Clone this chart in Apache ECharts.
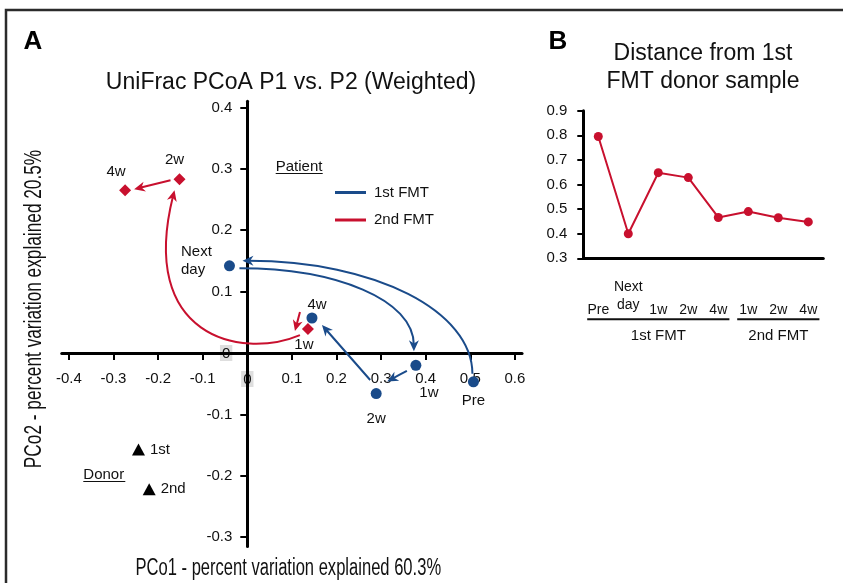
<!DOCTYPE html>
<html>
<head>
<meta charset="utf-8">
<script src="https://cdn.jsdelivr.net/npm/echarts@6/dist/echarts.min.js"></script>
<style>
  html, body { margin: 0; padding: 0; background: #fff; }
  #chart { width: 843px; height: 583px; }
</style>
</head>
<body>
<div id="chart"></div>
<script>
// ---- panel A: PCoA coordinates ----
const fmt1Labels = ['Pre', 'Next\nday', '1w', '2w', '4w'];
const fmt1X = [0.507, -0.040, 0.378, 0.289, 0.145];
const fmt1Y = [-0.047, 0.142, -0.020, -0.066, 0.057];

const fmt2Labels = ['1w', '2w', '4w'];
const fmt2X = [0.136, -0.152, -0.274];
const fmt2Y = [0.039, 0.283, 0.265];

const donorLabels = ['1st', '2nd'];
const donorX = [-0.244, -0.220];
const donorY = [-0.157, -0.222];

// time order of the samples: [from set, from index, to set, to index]
const arrowLinks = [
  ['fmt1', 0, 'fmt1', 1],
  ['fmt1', 1, 'fmt1', 2],
  ['fmt1', 2, 'fmt1', 3],
  ['fmt1', 3, 'fmt1', 4],
  ['fmt1', 4, 'fmt2', 0],
  ['fmt2', 0, 'fmt2', 1],
  ['fmt2', 1, 'fmt2', 2],
];

// ---- panel B: distance from 1st FMT donor ----
const distCategories = ['Pre', 'Next\nday', '1w', '2w', '4w', '1w', '2w', '4w'];
const distValues = [0.795, 0.400, 0.648, 0.628, 0.466, 0.490, 0.465, 0.448];
const distGroups = ['1st FMT', '2nd FMT'];
const distGroupFrom = [0, 5];
const distGroupTo = [4, 7];

const BLUE = '#1a4b8a';
const RED = '#c8102e';
const INK = '#111';
const FONT = '"Liberation Sans", Arial, Helvetica, sans-serif';

// layout of panel A: pixel of (0,0) and pixels per unit
const ORIGIN = [247.3, 353];
const SCALE = [446, 614];
const A_TICK_X = [-0.4, 0.6];
const A_TICK_Y = [-0.3, 0.4];
const A_LINE_X = [-0.416, 0.616];
const A_LINE_Y = [-0.315, 0.41];

function gridFor(xr, yr) {
  return {
    left: ORIGIN[0] + xr[0] * SCALE[0],
    width: (xr[1] - xr[0]) * SCALE[0],
    top: ORIGIN[1] - yr[1] * SCALE[1],
    height: (yr[1] - yr[0]) * SCALE[1],
    outerBoundsMode: 'none',
    containLabel: false,
  };
}

const sets = {
  fmt1: { x: fmt1X, y: fmt1Y },
  fmt2: { x: fmt2X, y: fmt2Y },
};

// label placement per point
const fmt1LabelStyle = [
  { position: 'bottom', offset: [0, 0] },
  { position: 'left', align: 'left', offset: [-38, -5] },
  { position: 'bottom', offset: [13, 8] },
  { position: 'bottom', offset: [0, 6] },
  { position: 'top', offset: [5, 6] },
];
const fmt2LabelStyle = [
  { position: 'bottom', offset: [-4, -3] },
  { position: 'top', offset: [-5, -1] },
  { position: 'top', offset: [-9, 0] },
];

// arrow shapes: pixel offsets of tail/tip from the linked points
const KAPPA = 0.5523;
const arrowShapes = [
  { color: BLUE, from: [-1, -8], to: [13, -5], arc: 'vh' },
  { color: BLUE, from: [10, 2.5], to: [-2, -14], arc: 'hv' },
  { color: BLUE, from: [-9, 5.5], to: [11, -12] },
  { color: BLUE, from: [-6, -13.5], to: [10, 7] },
  { color: RED, from: [-12, -6], to: [-13, 2] },
  { color: RED, from: [-8, 6], to: [-5, 11], c1: [-60, 25], c2: [-35, 140] },
  { color: RED, from: [-9, 1], to: [9, -1] },
];

function lerp(a, b, t) {
  return [a[0] + (b[0] - a[0]) * t, a[1] + (b[1] - a[1]) * t];
}

function renderArrow(params, api) {
  const sh = arrowShapes[params.dataIndex];
  const p0 = api.coord([api.value(0), api.value(1)]);
  const p1 = api.coord([api.value(2), api.value(3)]);
  const s = [p0[0] + sh.from[0], p0[1] + sh.from[1]];
  const e = [p1[0] + sh.to[0], p1[1] + sh.to[1]];
  let c1, c2;
  if (sh.arc) {
    const corner = sh.arc === 'vh' ? [s[0], e[1]] : [e[0], s[1]];
    c1 = lerp(s, corner, KAPPA);
    c2 = lerp(e, corner, KAPPA);
  } else if (sh.c1) {
    c1 = [s[0] + sh.c1[0], s[1] + sh.c1[1]];
    c2 = [e[0] + sh.c2[0], e[1] + sh.c2[1]];
  } else {
    c1 = lerp(s, e, 1 / 3);
    c2 = lerp(s, e, 2 / 3);
  }
  let dx = e[0] - c2[0], dy = e[1] - c2[1];
  const len = Math.hypot(dx, dy) || 1;
  dx /= len; dy /= len;
  const nx = -dy, ny = dx;
  const L = 11, W = 5, cut = 6;
  const back = [e[0] - dx * L, e[1] - dy * L];
  const head = [
    e,
    [back[0] + nx * W, back[1] + ny * W],
    [e[0] - dx * L * 0.7, e[1] - dy * L * 0.7],
    [back[0] - nx * W, back[1] - ny * W],
  ];
  return {
    type: 'group',
    children: [
      {
        type: 'bezierCurve',
        shape: {
          x1: s[0], y1: s[1],
          x2: e[0] - dx * cut, y2: e[1] - dy * cut,
          cpx1: c1[0], cpy1: c1[1],
          cpx2: c2[0] - dx * cut, cpy2: c2[1] - dy * cut,
        },
        style: { stroke: sh.color, lineWidth: 2, fill: 'none' },
      },
      { type: 'polygon', shape: { points: head }, style: { fill: sh.color } },
    ],
  };
}

function renderGroup(params, api) {
  const a = api.coord([api.value(0), 0.3]);
  const b = api.coord([api.value(1), 0.3]);
  const half = api.size([1, 0])[0] * 0.37;
  const y = a[1] + 61;
  return {
    type: 'group',
    children: [
      { type: 'line', shape: { x1: a[0] - half, y1: y, x2: b[0] + half, y2: y }, style: { stroke: INK, lineWidth: 2 } },
      {
        type: 'text', x: (a[0] + b[0]) / 2, y: y + 17,
        style: { text: distGroups[params.dataIndex], fontSize: 15, fontFamily: FONT, fill: INK, align: 'center', verticalAlign: 'middle' },
      },
    ],
  };
}

// tick label formatter: the zero labels sit on a light grey patch
const tickFormat = (v) => {
  const r = Math.round(v * 10) / 10;
  return r === 0 ? '{z|0}' : String(r);
};

const axisLineA = { show: true, onZero: true, lineStyle: { color: '#000', width: 3 } };
const tickA = { show: true, inside: false, length: 7, lineStyle: { color: '#000', width: 2 } };
const labelA = {
  color: INK, fontSize: 15, fontFamily: FONT, formatter: tickFormat,
  rich: { z: { color: INK, fontSize: 15, fontFamily: FONT, backgroundColor: '#dedede', padding: [1, 2, 0, 2] } },
};

// panel B category labels: the two-line one sits a little higher
const catLabelStyle = { verticalAlign: 'bottom', color: INK, fontSize: 14, lineHeight: 18, fontFamily: FONT };

const chart = echarts.init(document.getElementById('chart'), null, { renderer: 'canvas' });

const option = {
  animation: false,
  backgroundColor: '#fff',
  grid: [
    gridFor(A_LINE_X, A_LINE_Y),
    gridFor(A_TICK_X, A_TICK_Y),
    { left: 583.3, right: 19.7, top: 110.7, bottom: 324.7, outerBoundsMode: 'none', containLabel: false },
  ],
  xAxis: [
    {
      // tick/label axis first so the drawn axis lines cover its zero label
      type: 'value', gridIndex: 1, min: A_TICK_X[0], max: A_TICK_X[1], interval: 0.1,
      position: 'bottom', offset: A_TICK_Y[0] * SCALE[1],
      axisLine: { show: false, onZero: false }, axisTick: tickA, splitLine: { show: false },
      axisLabel: Object.assign({ margin: 18 }, labelA),
      z: 1,
    },
    {
      type: 'value', gridIndex: 0, min: A_LINE_X[0], max: A_LINE_X[1],
      axisLine: axisLineA, axisTick: { show: false }, axisLabel: { show: false }, splitLine: { show: false },
      z: 2,
    },
    {
      type: 'category', gridIndex: 2, boundaryGap: true,
      data: distCategories.map((c) => (c.indexOf('\n') >= 0
        ? { value: c, textStyle: Object.assign({ padding: [0, 0, 5, 0] }, catLabelStyle) }
        : c)),
      axisLine: { show: true, lineStyle: { color: '#000', width: 3 } },
      axisTick: { show: false },
      axisLabel: Object.assign({ interval: 0, margin: 61 }, catLabelStyle),
      splitLine: { show: false },
    },
  ],
  yAxis: [
    {
      type: 'value', gridIndex: 1, min: A_TICK_Y[0], max: A_TICK_Y[1], interval: 0.1,
      position: 'left', offset: A_TICK_X[0] * SCALE[0],
      axisLine: { show: false, onZero: false }, axisTick: tickA, splitLine: { show: false },
      axisLabel: Object.assign({ margin: 15 }, labelA),
      z: 1,
    },
    {
      type: 'value', gridIndex: 0, min: A_LINE_Y[0], max: A_LINE_Y[1],
      axisLine: axisLineA, axisTick: { show: false }, axisLabel: { show: false }, splitLine: { show: false },
      z: 2,
    },
    {
      type: 'value', gridIndex: 2, min: 0.3, max: 0.9, interval: 0.1,
      axisLine: { show: true, lineStyle: { color: '#000', width: 3 } },
      axisTick: { show: true, length: 6, lineStyle: { color: '#000', width: 2 } },
      axisLabel: { margin: 16, color: INK, fontSize: 15, fontFamily: FONT, formatter: (v) => v.toFixed(1) },
      splitLine: { show: false },
    },
  ],
  legend: {
    data: [
      { name: '1st FMT', icon: 'rect', itemStyle: { color: BLUE } },
      { name: '2nd FMT', icon: 'rect', itemStyle: { color: RED } },
    ],
    orient: 'vertical', left: 330, top: 180, itemWidth: 31, itemHeight: 3, itemGap: 12.5,
    selectedMode: false,
    textStyle: { fontSize: 15, color: INK, fontFamily: FONT, padding: [0, 0, 0, 3] },
  },
  series: [
    {
      type: 'custom', name: 'arrows', xAxisIndex: 1, yAxisIndex: 1, silent: true, z: 3,
      renderItem: renderArrow,
      encode: { x: [0, 2], y: [1, 3] },
      data: arrowLinks.map((l) => [sets[l[0]].x[l[1]], sets[l[0]].y[l[1]], sets[l[2]].x[l[3]], sets[l[2]].y[l[3]]]),
    },
    {
      type: 'scatter', name: '1st FMT', xAxisIndex: 1, yAxisIndex: 1, z: 5,
      symbol: 'circle', symbolSize: 11, itemStyle: { color: BLUE, opacity: 1 },
      label: { show: true, formatter: (p) => fmt1Labels[p.dataIndex], color: INK, fontSize: 15, fontFamily: FONT, lineHeight: 18 },
      data: fmt1X.map((x, i) => ({ value: [x, fmt1Y[i]], label: fmt1LabelStyle[i] })),
    },
    {
      type: 'scatter', name: '2nd FMT', xAxisIndex: 1, yAxisIndex: 1, z: 5,
      symbol: 'diamond', symbolSize: 12, itemStyle: { color: RED, opacity: 1 },
      label: { show: true, formatter: (p) => fmt2Labels[p.dataIndex], color: INK, fontSize: 15, fontFamily: FONT },
      data: fmt2X.map((x, i) => ({ value: [x, fmt2Y[i]], label: fmt2LabelStyle[i] })),
    },
    {
      type: 'scatter', name: 'Donor', xAxisIndex: 1, yAxisIndex: 1, z: 5,
      symbol: 'triangle', symbolSize: [13, 12], itemStyle: { color: '#000', opacity: 1 },
      label: { show: true, position: 'right', distance: 5, formatter: (p) => donorLabels[p.dataIndex], color: INK, fontSize: 15, fontFamily: FONT },
      data: donorX.map((x, i) => [x, donorY[i]]),
    },
    {
      type: 'line', name: 'Distance', xAxisIndex: 2, yAxisIndex: 2, z: 5,
      data: distValues,
      symbol: 'circle', symbolSize: 9, showSymbol: true,
      lineStyle: { color: RED, width: 2 },
      itemStyle: { color: RED, opacity: 1 },
    },
    {
      type: 'custom', name: 'groups', xAxisIndex: 2, yAxisIndex: 2, silent: true, clip: false,
      renderItem: renderGroup,
      encode: { x: [0, 1] },
      data: distGroupFrom.map((f, i) => [f, distGroupTo[i]]),
    },
  ],
  graphic: [
    { type: 'polyline', silent: true, shape: { points: [[6, 583], [6, 10], [843, 10]] }, style: { stroke: '#2b2b2b', lineWidth: 2.5, fill: 'none' } },
    { type: 'text', x: 33, y: 42, style: { text: 'A', fontSize: 26, fontWeight: 'bold', fontFamily: FONT, fill: '#000', align: 'center', verticalAlign: 'middle' } },
    { type: 'text', x: 558, y: 42, style: { text: 'B', fontSize: 26, fontWeight: 'bold', fontFamily: FONT, fill: '#000', align: 'center', verticalAlign: 'middle' } },
    { type: 'text', x: 291, y: 83, style: { text: 'UniFrac PCoA P1 vs. P2 (Weighted)', fontSize: 23, fontFamily: FONT, fill: INK, align: 'center', verticalAlign: 'middle' } },
    { type: 'text', x: 703, y: 67.5, style: { text: 'Distance from 1st\nFMT donor sample', fontSize: 23, lineHeight: 28.4, fontFamily: FONT, fill: INK, align: 'center', verticalAlign: 'middle' } },
    { type: 'text', x: 288.3, y: 568.3, scaleX: 0.72, style: { text: 'PCo1 - percent variation explained 60.3%', fontSize: 23, fontFamily: FONT, fill: INK, align: 'center', verticalAlign: 'middle' } },
    { type: 'text', x: 35, y: 309, rotation: Math.PI / 2, scaleX: 0.75, style: { text: 'PCo2 - percent variation explained 20.5%', fontSize: 23, fontFamily: FONT, fill: INK, align: 'center', verticalAlign: 'middle' } },
    { type: 'text', x: 275.7, y: 166.7, style: { text: 'Patient', fontSize: 15, fontFamily: FONT, fill: INK, align: 'left', verticalAlign: 'middle' } },
    { type: 'line', shape: { x1: 275.7, y1: 173.5, x2: 322.7, y2: 173.5 }, style: { stroke: INK, lineWidth: 1.2 } },
    { type: 'text', x: 83.3, y: 475, style: { text: 'Donor', fontSize: 15, fontFamily: FONT, fill: INK, align: 'left', verticalAlign: 'middle' } },
    { type: 'line', shape: { x1: 83.3, y1: 481.5, x2: 125.3, y2: 481.5 }, style: { stroke: INK, lineWidth: 1.2 } },
  ],
};

chart.setOption(option);
</script>
</body>
</html>
